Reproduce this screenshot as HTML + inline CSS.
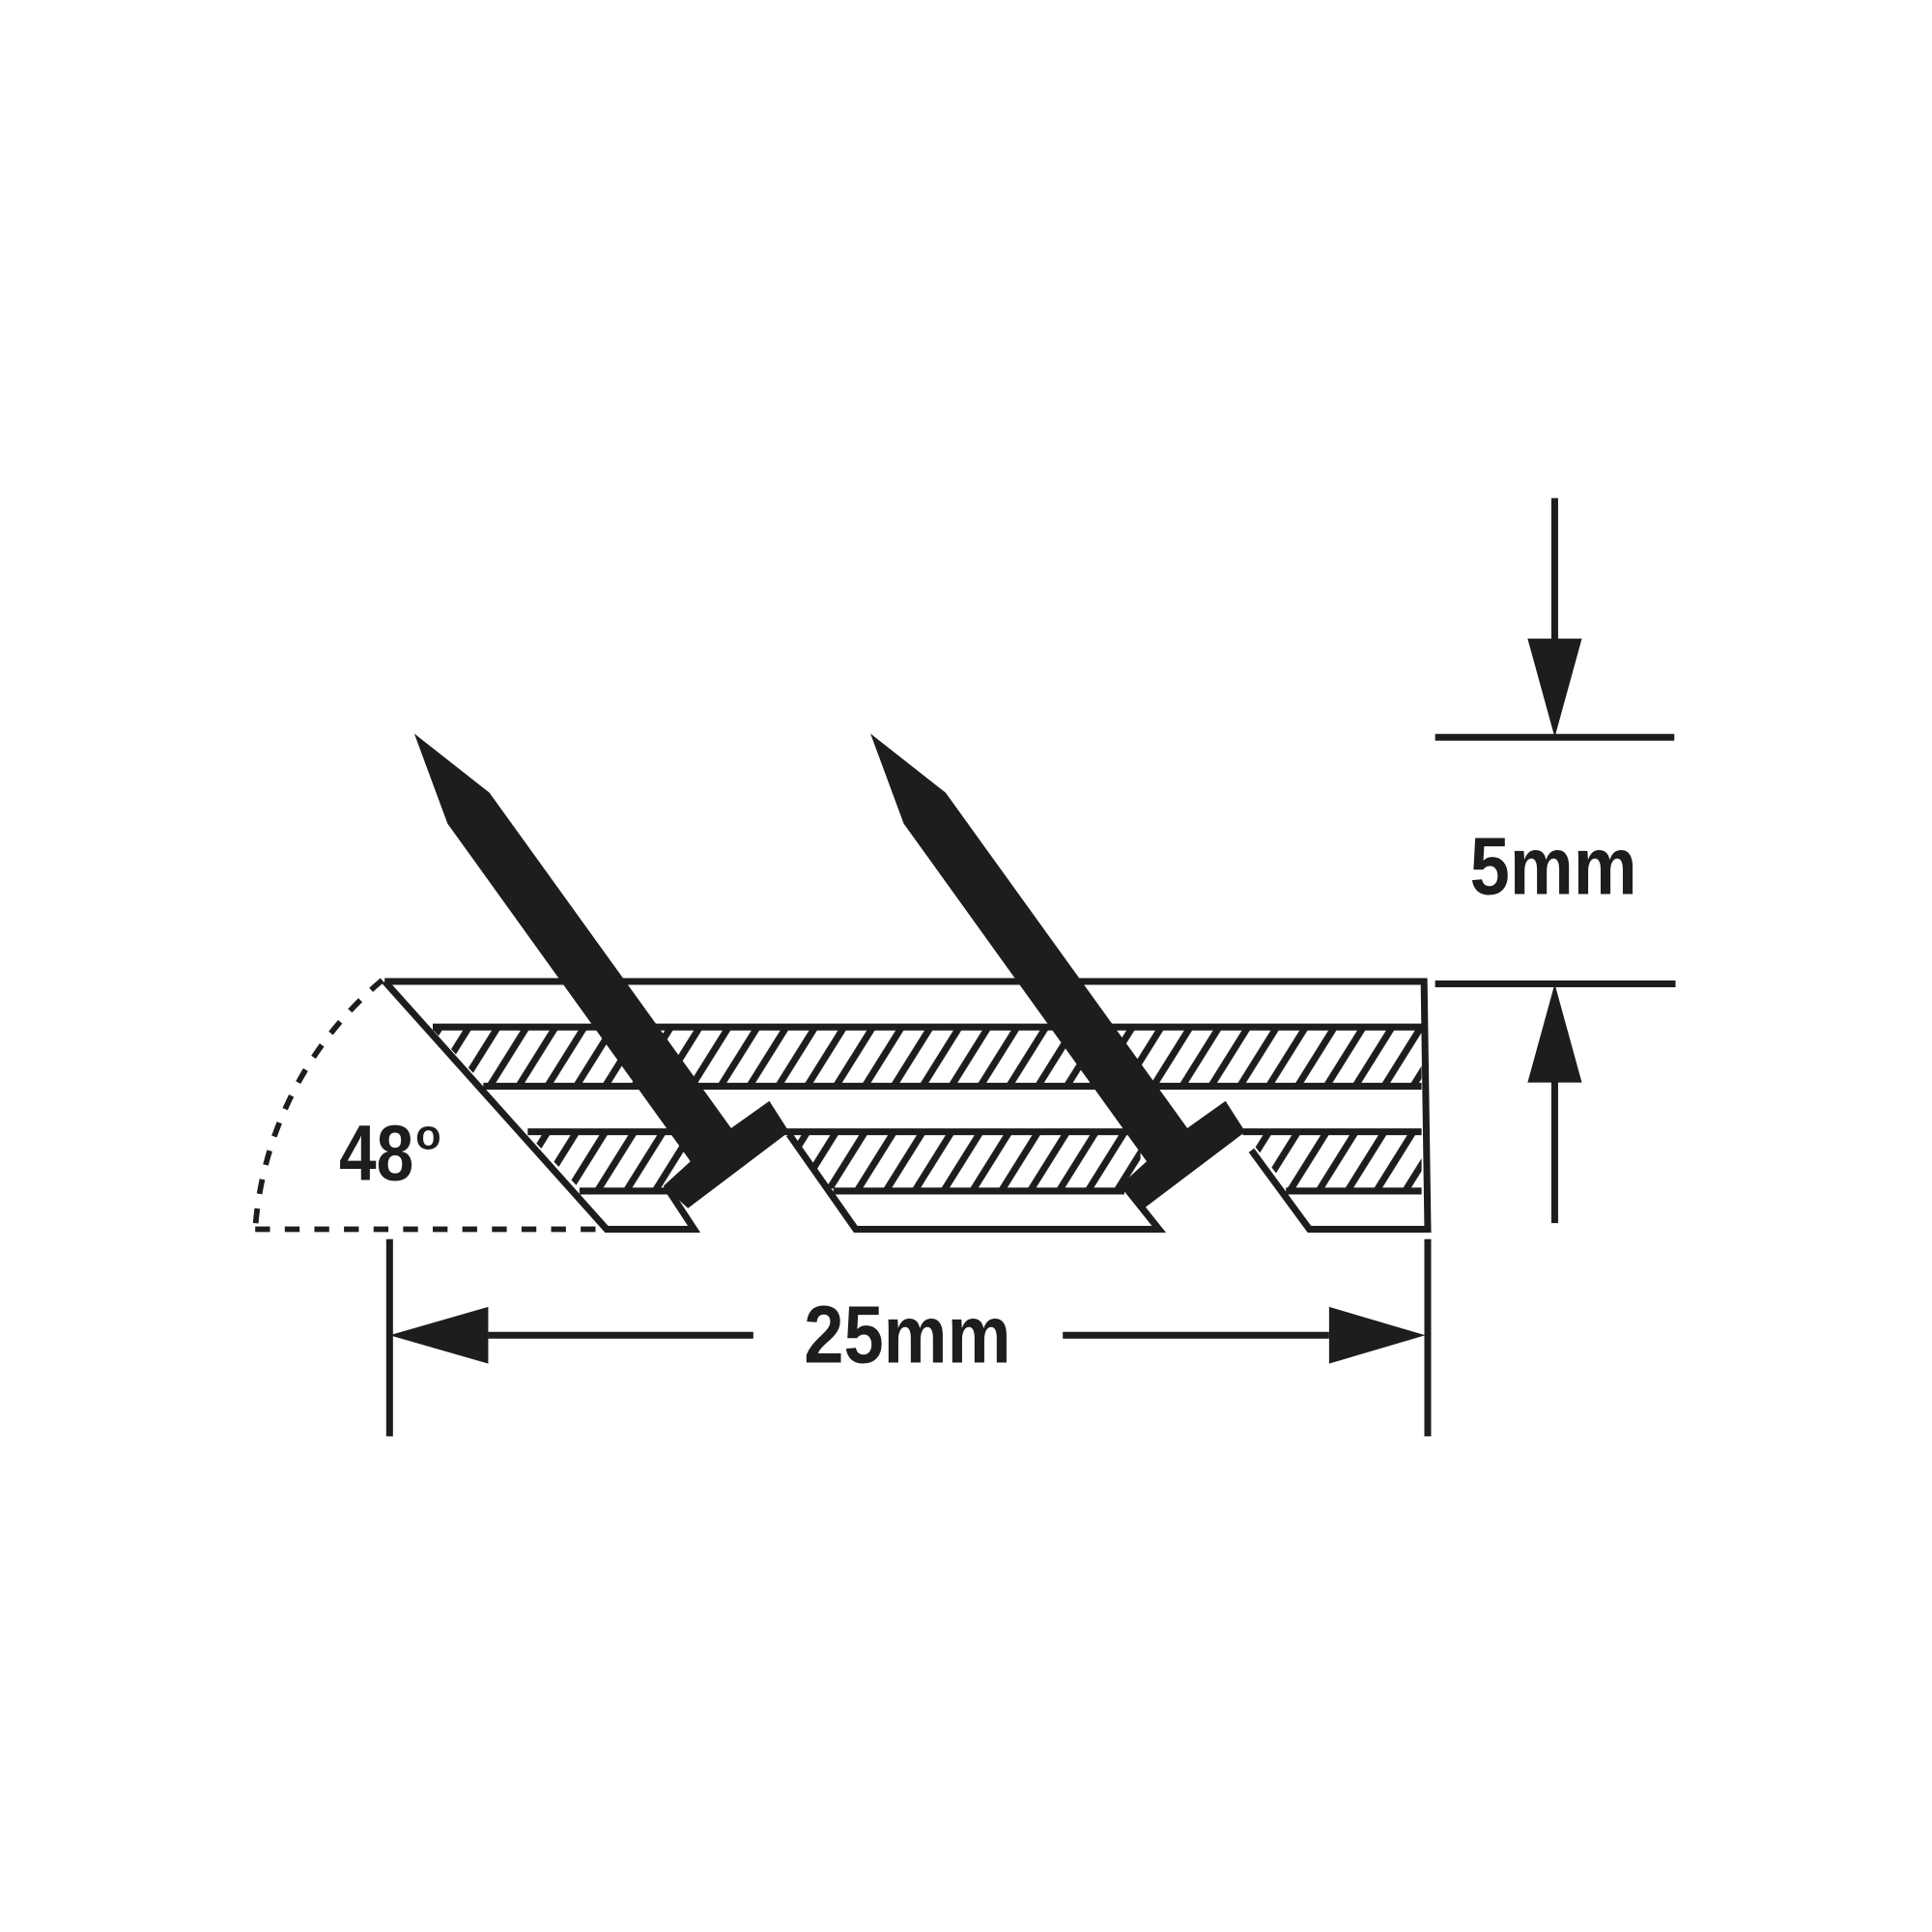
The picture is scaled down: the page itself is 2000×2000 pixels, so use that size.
<!DOCTYPE html>
<html><head><meta charset="utf-8"><style>html,body{margin:0;padding:0;background:#fff}svg{display:block}</style></head><body>
<svg width="2000" height="2000" viewBox="0 0 1567 1567" xmlns="http://www.w3.org/2000/svg">
<defs>
<pattern id="h" patternUnits="userSpaceOnUse" width="23.4" height="200" patternTransform="skewX(-32)">
<line x1="11.7" y1="-10" x2="11.7" y2="210" stroke="#1d1d1b" stroke-width="6.5"/>
</pattern>
</defs>
<g fill="none" stroke="#1d1d1b" stroke-width="5.5">
<polygon points="351,835 1153,835 1153,879 392,879" fill="url(#h)" stroke="none"/>
<polygon points="428,920 555,920 555,964 470,964" fill="url(#h)" stroke="none"/>
<polygon points="640,920 925,920 925,964 672,964" fill="url(#h)" stroke="none"/>
<polygon points="1010,920 1153,920 1153,964 1045,964" fill="url(#h)" stroke="none"/>
<polyline points="312,796 1155,796 1158,997 1062,997 1015,933"/>
<polyline points="312,796 492,997 563,997 540,962"/>
<polyline points="640,920 694,997 940,997 912,962"/>
<line x1="351" y1="833" x2="1153" y2="833"/>
<line x1="392" y1="881" x2="1153" y2="881"/>
<line x1="428" y1="918" x2="555" y2="918"/>
<line x1="636" y1="918" x2="925" y2="918"/>
<line x1="1008" y1="918" x2="1153" y2="918"/>
<line x1="470" y1="966" x2="545" y2="966"/>
<line x1="676" y1="966" x2="912" y2="966"/>
<line x1="1043" y1="966" x2="1153" y2="966"/>
</g>
<g fill="#1d1d1b">
<polygon points="336,595 397,643 593,915 624,893 640,918 558,980 538,962 560,942 363,668"/>
<polygon points="706,595 767,643 963,915 994,893 1010,918 928,980 908,962 930,942 733,668"/>
</g>
<g fill="none" stroke="#1d1d1b" stroke-width="4.5" stroke-dasharray="12,12">
<path d="M310,795 A290,290 0 0 0 207,997"/>
<line x1="207" y1="997" x2="492" y2="997"/>
</g>
<text x="275" y="957" font-family="Liberation Sans, sans-serif" font-weight="bold" font-size="64" fill="#1d1d1b" transform="translate(275 957) scale(0.85 1) translate(-275 -957)">48</text>
<text x="337" y="932" font-family="Liberation Sans, sans-serif" font-weight="bold" font-size="34" fill="#1d1d1b">o</text>
<g stroke="#1d1d1b" stroke-width="5.5" fill="none">
<line x1="316" y1="1005" x2="316" y2="1165"/>
<line x1="1158" y1="1005" x2="1158" y2="1165"/>
<line x1="396" y1="1083" x2="611" y2="1083"/>
<line x1="862" y1="1083" x2="1078" y2="1083"/>
<line x1="1261" y1="404" x2="1261" y2="520"/>
<line x1="1164" y1="598" x2="1358" y2="598"/>
<line x1="1164" y1="798" x2="1359" y2="798"/>
<line x1="1261" y1="876" x2="1261" y2="992"/>
</g>
<g fill="#1d1d1b">
<polygon points="316,1083 396,1060 396,1106"/>
<polygon points="1156,1083 1078,1060 1078,1106"/>
<polygon points="1261,598 1239,518 1283,518"/>
<polygon points="1261,798 1239,878 1283,878"/>
</g>
<text x="736" y="1105" text-anchor="middle" font-family="Liberation Sans, sans-serif" font-weight="bold" font-size="66" fill="#1d1d1b" transform="translate(736 1105) scale(0.88 1) translate(-736 -1105)">25mm</text>
<text x="1260" y="725" text-anchor="middle" font-family="Liberation Sans, sans-serif" font-weight="bold" font-size="66" fill="#1d1d1b" transform="translate(1260 725) scale(0.88 1) translate(-1260 -725)">5mm</text>
</svg>
</body></html>
